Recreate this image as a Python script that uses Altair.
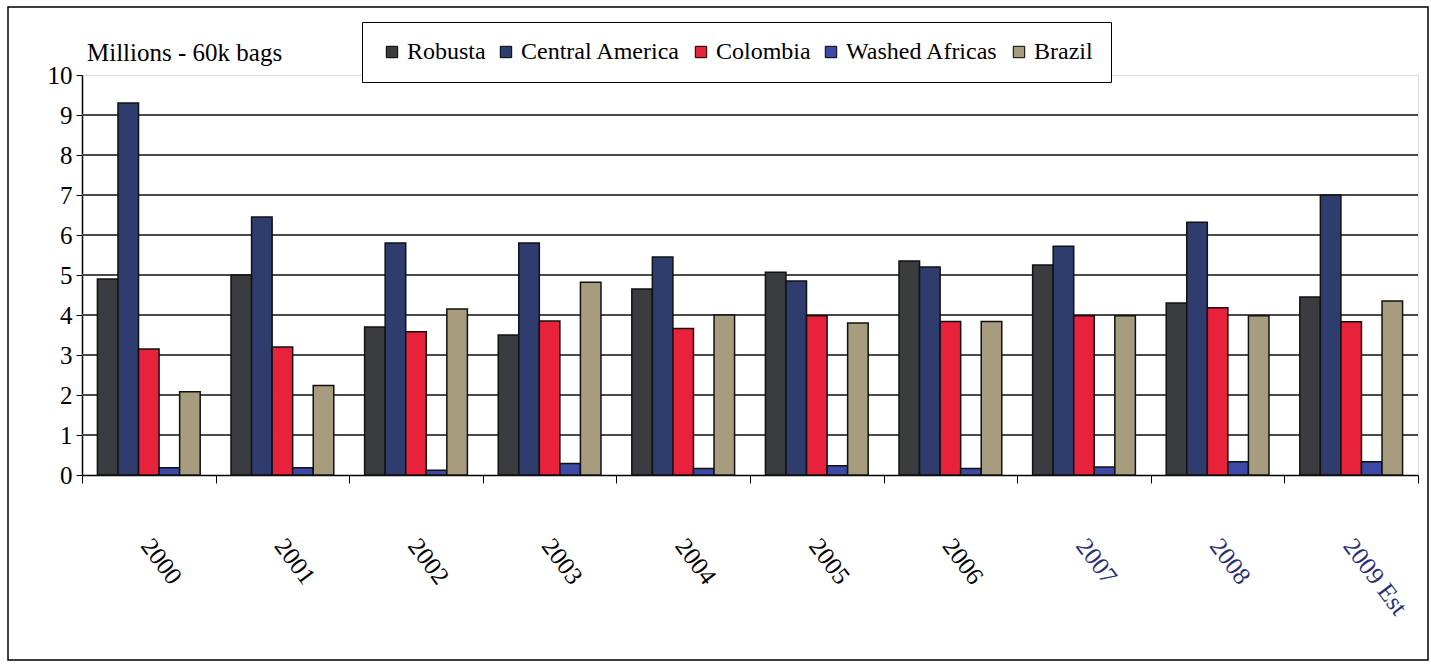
import altair as alt
import pandas as pd

years = ["2000", "2001", "2002", "2003", "2004", "2005", "2006", "2007", "2008", "2009 Est"]
series = ["Robusta", "Central America", "Colombia", "Washed Africas", "Brazil"]
robusta = [4.9, 5.0, 3.7, 3.5, 4.65, 5.07, 5.35, 5.25, 4.3, 4.45]
central_america = [9.3, 6.45, 5.8, 5.8, 5.45, 4.85, 5.2, 5.72, 6.32, 7.0]
colombia = [3.15, 3.2, 3.58, 3.85, 3.66, 3.98, 3.84, 3.98, 4.18, 3.83]
washed_africas = [0.18, 0.18, 0.12, 0.29, 0.16, 0.23, 0.16, 0.2, 0.33, 0.33]
brazil = [2.08, 2.24, 4.15, 4.82, 4.0, 3.8, 3.84, 3.98, 3.98, 4.35]
colors = ["#3b3c40", "#2e3d6e", "#e8223a", "#3c4aa5", "#a89c7e"]
grid_values = [1, 2, 3, 4, 5, 6, 7, 8, 9]
y_ticks = [0, 1, 2, 3, 4, 5, 6, 7, 8, 9, 10]
unit_title = "Millions - 60k bags"

values = [robusta, central_america, colombia, washed_africas, brazil]
rows = []
for s, vals in zip(series, values):
    for y, v in zip(years, vals):
        rows.append({"year": y, "series": s, "value": v})
df = pd.DataFrame(rows)

W, H = 1336, 400
FONT = "Liberation Serif"

y_axis = alt.Axis(values=y_ticks, grid=False, tickSize=6, tickColor="black",
                  domainColor="black", domainWidth=1.5,
                  labelOverlap=False, labelFlush=False, tickCount=11,
                  labelFont=FONT, labelFontSize=25, labelColor="black",
                  labelPadding=4)
y_scale = alt.Scale(domain=[0, 10], nice=False)

grid = alt.Chart(pd.DataFrame({"g": grid_values})).mark_rule(
    color="#4a4a4a", strokeWidth=2
).encode(y=alt.Y("g:Q", scale=y_scale, axis=y_axis, title=None))

bars = alt.Chart(df).mark_bar(stroke="#111111", strokeWidth=1.5).encode(
    x=alt.X("year:N", sort=years, title=None,
            scale=alt.Scale(paddingInner=0, paddingOuter=0),
            axis=alt.Axis(tickBand="extent", tickSize=8, tickColor="black",
                          domainColor="black", domainWidth=1.5,
                          labelAngle=53, labelAlign="left", labelBaseline="middle",
                          labelPadding=58, labelOffset=-3,
                          labelFont=FONT, labelFontSize=25,
                          labelColor={"condition": {"test": "indexof(['2007','2008','2009 Est'], datum.value) >= 0",
                                                    "value": "#2a2f72"},
                                      "value": "black"})),
    xOffset=alt.XOffset("series:N", sort=series,
                        scale=alt.Scale(paddingOuter=0.75, paddingInner=0)),
    y=alt.Y("value:Q", scale=y_scale, title=None, axis=y_axis),
    color=alt.Color("series:N", sort=series,
                    scale=alt.Scale(domain=series, range=colors),
                    legend=alt.Legend(title=None, orient="none", legendX=280, legendY=-53,
                                      direction="horizontal", symbolType="square",
                                      symbolSize=130, symbolStrokeColor="black",
                                      symbolStrokeWidth=1, labelFont=FONT,
                                      labelFontSize=24, labelColor="black",
                                      strokeColor="black", fillColor="white",
                                      padding=18, columnPadding=8, labelOffset=3)),
)

title = alt.Chart(pd.DataFrame({"a": [0]})).mark_text(
    align="left", baseline="alphabetic", font=FONT, fontSize=25, color="black"
).encode(x=alt.value(5), y=alt.value(-14), text=alt.value(unit_title))

frame = alt.Chart(pd.DataFrame({"a": [0]})).mark_rect(
    fill="transparent", stroke="black", strokeWidth=1.5
).encode(x=alt.value(-74), x2=alt.value(1346), y=alt.value(-68), y2=alt.value(585))

chart = alt.layer(grid, bars, title, frame).properties(
    width=W, height=H,
    autosize=alt.AutoSizeParams(type="none"),
    padding={"left": 82, "top": 75, "right": 13, "bottom": 191},
).configure_view(stroke=None).configure(background="white")

chart.save("out.html", embed_options={"renderer": "svg", "actions": False})
